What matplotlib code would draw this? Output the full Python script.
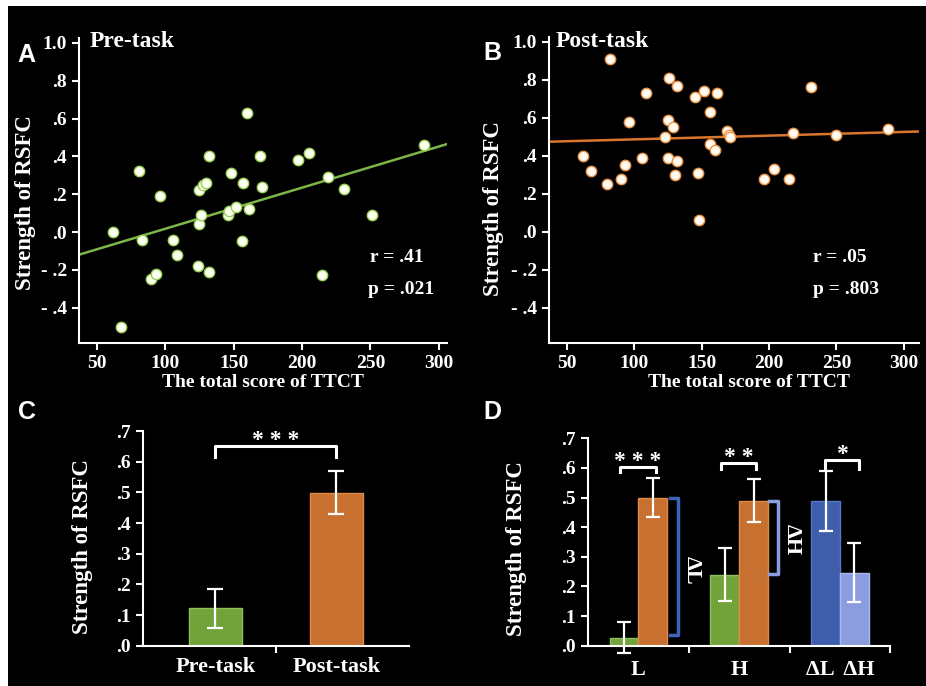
import matplotlib as mpl
mpl.use('Agg')
import matplotlib.pyplot as plt
from matplotlib.patches import Rectangle
import numpy as np

# ---- data ----
# panel A : pre-task RSFC vs TTCT
pre_ttct = [62, 68, 81, 83, 90, 93, 96, 106, 109, 124, 125, 125, 126, 128, 130, 132,
            132, 146, 147, 148, 152, 156, 157, 160, 161, 169, 171, 197, 205, 215, 219,
            231, 251, 289]
pre_rsfc = [0.0, -0.50, 0.32, -0.04, -0.25, -0.22, 0.19, -0.04, -0.12, -0.18, 0.22,
            0.04, 0.09, 0.25, 0.26, 0.40, -0.21, 0.09, 0.11, 0.31, 0.13, -0.05, 0.26,
            0.63, 0.12, 0.40, 0.24, 0.38, 0.42, -0.23, 0.29, 0.23, 0.09, 0.46]
pre_fit_x = [37, 306]
pre_fit_y = [-0.12, 0.465]

# panel B : post-task RSFC vs TTCT
post_ttct = [62, 68, 80, 82, 90, 93, 96, 106, 109, 123, 125, 125, 126, 129, 130, 132,
             132, 145, 147, 148, 152, 156, 156, 160, 161, 169, 170, 171, 196, 204, 215,
             218, 231, 250, 288]
post_rsfc = [0.40, 0.32, 0.25, 0.91, 0.28, 0.35, 0.58, 0.39, 0.73, 0.50, 0.59, 0.39,
             0.81, 0.55, 0.30, 0.37, 0.77, 0.71, 0.31, 0.06, 0.74, 0.63, 0.46, 0.43,
             0.73, 0.53, 0.51, 0.50, 0.28, 0.33, 0.28, 0.52, 0.76, 0.51, 0.54]
post_fit_x = [36, 311]
post_fit_y = [0.474, 0.528]

# panel C
c_labels = ['Pre-task', 'Post-task']
c_means = [0.122, 0.499]
c_errs = [0.063, 0.070]

# panel D
d_groups = ['L', 'H', 'ΔL  ΔH']
d_means = [0.027, 0.50, 0.24, 0.49, 0.488, 0.247]
d_errs = [0.052, 0.065, 0.09, 0.074, 0.10, 0.098]

yt_sc = [-0.4, -0.2, 0.0, 0.2, 0.4, 0.6, 0.8, 1.0]
yt_sc_lab = ['- .4', '- .2', '.0', '.2', '.4', '.6', '.8', '1.0']
xt_sc = [50, 100, 150, 200, 250, 300]
yt_bar = [0, .1, .2, .3, .4, .5, .6, .7]
yt_bar_lab = ['.0', '.1', '.2', '.3', '.4', '.5', '.6', '.7']

GREEN = '#72a33b'
ORANGE = '#c8702f'
DBLUE = '#3f5fad'
LBLUE = '#8b9ddf'
SERIF = 'Liberation Serif'

fig = plt.figure(figsize=(9.26, 6.86), dpi=100)
fig.patch.set_facecolor('white')
fig.patches.append(Rectangle((8/926., 0), 1 - 8/926., 1 - 6/686., transform=fig.transFigure,
                             facecolor='black', edgecolor='none', zorder=-10))


def style_axes(ax):
    ax.set_facecolor('none')
    for s in ['top', 'right']:
        ax.spines[s].set_visible(False)
    for s in ['left', 'bottom']:
        ax.spines[s].set_color('white')
        ax.spines[s].set_linewidth(1.5)
    ax.tick_params(colors='white', width=1.5, length=5, labelsize=14)
    for lab in ax.get_xticklabels() + ax.get_yticklabels():
        lab.set_fontfamily(SERIF)
        lab.set_fontweight('bold')


def scatter_panel(rect, xs, ys, fx, fy, line_col, edge_col, face_col, title, r_txt, p_txt,
                  xlim, ylab_pos, xlab_pos):
    ax = fig.add_axes(rect)
    ax.plot(fx, fy, color=line_col, lw=1.8, zorder=2)
    ax.scatter(xs, ys, s=56, facecolor=face_col, edgecolor=edge_col, linewidth=1.0, zorder=3)
    ax.set_xlim(xlim)
    ax.set_ylim(-0.587, 1.026)
    ax.set_yticks(yt_sc)
    ax.set_yticklabels(yt_sc_lab)
    ax.set_xticks(xt_sc)
    style_axes(ax)
    ax.set_ylabel('Strength of RSFC', color='white', fontsize=16.5, fontfamily=SERIF,
                  fontweight='bold')
    ax.yaxis.set_label_coords(*ylab_pos)
    ax.set_xlabel('The total score of TTCT', color='white', fontsize=14, fontfamily=SERIF,
                  fontweight='bold')
    ax.xaxis.set_label_coords(*xlab_pos)
    ax.xaxis.label.set_va('center')
    ax.text(title[1], 0.987, title[0], transform=ax.transAxes, color='white', fontsize=17,
            fontfamily=SERIF, fontweight='bold', va='center', ha='left')
    ax.text(r_txt[1], 0.279, r_txt[0], transform=ax.transAxes, color='white', fontsize=14,
            fontfamily=SERIF, fontweight='bold', va='center', ha='left')
    ax.text(p_txt[1], 0.174, p_txt[0], transform=ax.transAxes, color='white', fontsize=14,
            fontfamily=SERIF, fontweight='bold', va='center', ha='left')
    return ax


axA = scatter_panel([0.0853, 0.5, 0.3974, 0.4446], pre_ttct, pre_rsfc, pre_fit_x, pre_fit_y,
                    '#7ab648', '#9ccf55', '#fbfff0', ('Pre-task', 0.03),
                    ('r = .41', 0.79), ('p = .021', 0.785), (37, 306),
                    (-0.117, 0.46), (0.5, -0.128))
axB = scatter_panel([0.5925, 0.5, 0.3996, 0.446], post_ttct, post_rsfc, post_fit_x, post_fit_y,
                    '#d9782d', '#ec9446', '#fff9f0', ('Post-task', 0.02),
                    ('r = .05', 0.714), ('p = .803', 0.714), (36.4, 311),
                    (-0.121, 0.438), (0.54, -0.128))

# ---- panel C ----
axC = fig.add_axes([0.154, 0.0587, 0.2877, 0.313])
xc = np.arange(len(c_labels))
axC.bar(xc, c_means, width=0.44, color=[GREEN, ORANGE], edgecolor=['#8cc05a', '#e08a4a'],
        linewidth=1.0, zorder=2)
axC.errorbar(xc, c_means, yerr=c_errs, fmt='none', ecolor='white', elinewidth=1.6,
             capsize=5.5, capthick=1.6, zorder=3)
axC.set_xlim(-0.6, 1.6)
axC.set_ylim(0, 0.7)
axC.set_yticks(yt_bar)
axC.set_yticklabels(yt_bar_lab)
axC.set_xticks(xc)
axC.set_xticklabels(c_labels)
axC.set_xticks([0.5], minor=True)
style_axes(axC)
axC.tick_params(axis='x', which='major', length=0, labelsize=16, pad=8)
axC.tick_params(axis='x', which='minor', colors='white', width=1.5, length=5)
axC.set_ylabel('Strength of RSFC', color='white', fontsize=16.5, fontfamily=SERIF,
               fontweight='bold')
axC.yaxis.set_label_coords(-0.188, 0.461)
# significance bracket
axC.plot([0, 0, 1, 1], [0.614, 0.652, 0.652, 0.614], color='white', lw=2.2, clip_on=False)
axC.text(0.5, 0.652, '* * *', color='white', fontsize=17, fontfamily=SERIF, fontweight='bold',
         ha='center', va='baseline')

# ---- panel D ----
axD = fig.add_axes([0.635, 0.0587, 0.3265, 0.3024])
d_pos = [-0.143, 0.143, 0.857, 1.143, 1.857, 2.143]
d_cols = [GREEN, ORANGE, GREEN, ORANGE, DBLUE, LBLUE]
d_edges = ['#8cc05a', '#e08a4a', '#8cc05a', '#e08a4a', '#5577c8', '#a9b8ee']
axD.bar(d_pos, d_means, width=0.285, color=d_cols, edgecolor=d_edges, linewidth=1.0, zorder=2)
axD.errorbar(d_pos, d_means, yerr=d_errs, fmt='none', ecolor='white', elinewidth=1.6,
             capsize=5, capthick=1.6, zorder=3, clip_on=False)
axD.set_xlim(-0.5, 2.5)
axD.set_ylim(0, 0.7)
axD.set_yticks(yt_bar)
axD.set_yticklabels(yt_bar_lab)
axD.set_xticks(range(len(d_groups)))
axD.set_xticklabels(d_groups)
axD.set_xticks([0.5, 1.5, 2.5], minor=True)
style_axes(axD)
axD.tick_params(axis='x', which='major', length=0, labelsize=16, pad=10)
axD.tick_params(axis='x', which='minor', colors='white', width=1.5, length=5)
axD.set_ylabel('Strength of RSFC', color='white', fontsize=16.5, fontfamily=SERIF,
               fontweight='bold')
axD.yaxis.set_label_coords(-0.202, 0.466)

# significance brackets
for x0, x1, yb, yl, stars in [(-0.185, 0.172, 0.602, 0.587, '* * *'),
                              (0.821, 1.166, 0.615, 0.595, '* *'),
                              (1.854, 2.192, 0.627, 0.598, '*')]:
    axD.plot([x0, x0, x1, x1], [yl, yb, yb, yl], color='white', lw=2.2, clip_on=False)
    axD.text((x0 + x1) / 2, yb, stars, color='white', fontsize=17, fontfamily=SERIF,
             fontweight='bold', ha='center', va='baseline')

# delta brackets
axD.plot([0.311, 0.397, 0.397, 0.311], [0.497, 0.497, 0.036, 0.036], color='#3f63b8', lw=2.5)
axD.text(0.527, 0.256, 'ΔL', color='white', fontsize=16, fontfamily=SERIF, fontweight='bold',
         rotation=-90, ha='center', va='center')
axD.plot([1.298, 1.387, 1.387, 1.298], [0.488, 0.488, 0.242, 0.242], color=LBLUE, lw=2.5)
axD.text(1.517, 0.357, 'ΔH', color='white', fontsize=16, fontfamily=SERIF, fontweight='bold',
         rotation=-90, ha='center', va='center')

# panel letters
for lx, ly, letter in [(0.029, 0.92, 'A'), (0.532, 0.923, 'B'),
                       (0.029, 0.399, 'C'), (0.532, 0.399, 'D')]:
    fig.text(lx, ly, letter, color='white', fontsize=18, fontfamily='Liberation Sans',
             fontweight='bold', ha='center', va='center')

plt.savefig('out.png', dpi=100, facecolor=fig.get_facecolor())
